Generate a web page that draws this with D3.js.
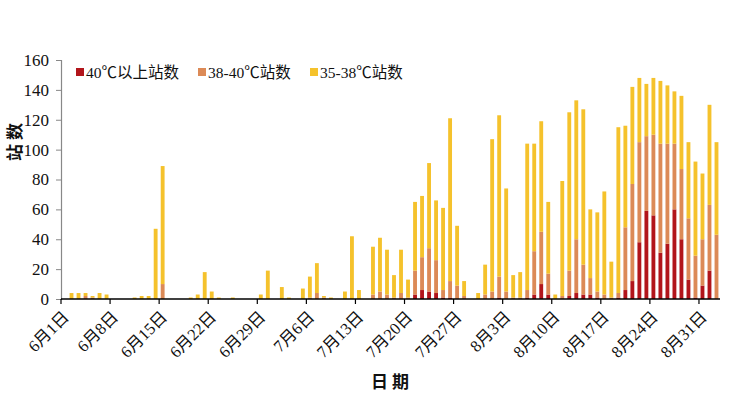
<!DOCTYPE html>
<html><head><meta charset="utf-8">
<script src="https://cdn.jsdelivr.net/npm/d3@7"></script>
<style>
html,body{margin:0;padding:0;background:#fff;}
text{font-family:"Liberation Serif","Times New Roman","Noto Sans CJK SC",serif;}
</style></head>
<body><svg id="c" width="748" height="400"></svg>
<script>
const dates = [
"2022-06-01","2022-06-02","2022-06-03","2022-06-04","2022-06-05","2022-06-06","2022-06-07","2022-06-08","2022-06-09","2022-06-10",
"2022-06-11","2022-06-12","2022-06-13","2022-06-14","2022-06-15","2022-06-16","2022-06-17","2022-06-18","2022-06-19","2022-06-20",
"2022-06-21","2022-06-22","2022-06-23","2022-06-24","2022-06-25","2022-06-26","2022-06-27","2022-06-28","2022-06-29","2022-06-30",
"2022-07-01","2022-07-02","2022-07-03","2022-07-04","2022-07-05","2022-07-06","2022-07-07","2022-07-08","2022-07-09","2022-07-10",
"2022-07-11","2022-07-12","2022-07-13","2022-07-14","2022-07-15","2022-07-16","2022-07-17","2022-07-18","2022-07-19","2022-07-20",
"2022-07-21","2022-07-22","2022-07-23","2022-07-24","2022-07-25","2022-07-26","2022-07-27","2022-07-28","2022-07-29","2022-07-30",
"2022-07-31","2022-08-01","2022-08-02","2022-08-03","2022-08-04","2022-08-05","2022-08-06","2022-08-07","2022-08-08","2022-08-09",
"2022-08-10","2022-08-11","2022-08-12","2022-08-13","2022-08-14","2022-08-15","2022-08-16","2022-08-17","2022-08-18","2022-08-19",
"2022-08-20","2022-08-21","2022-08-22","2022-08-23","2022-08-24","2022-08-25","2022-08-26","2022-08-27","2022-08-28","2022-08-29",
"2022-08-30","2022-08-31","2022-09-01","2022-09-02"];

const above40 = [
0,0,0,0,0,0,0,0,0,0, 0,0,0,0,0,0,0,0,0,0, 0,0,0,0,0,0,0,0,0,0,
0,0,0,0,0,0,0,0,0,0, 0,0,0,0,0,0,0,0,0,0, 3,6,5,4,1,1,0,0,0,0,
0,0,1,0,0,0,1,3,10,3, 0,0,2,4,3,3,1,0,0,1, 6,12,38,59,56,31,37,60,40,13,
1,9,19,0];

const t38to40 = [
0,0,0,2,1,0,0,0,0,0, 0,0,0,0,10,0,0,0,0,0, 0,0,0,0,0,0,0,0,0,0,
0,0,0,0,0,1,4,1,0,0, 0,0,0,0,3,5,3,1,4,1, 16,22,29,22,5,11,9,2,0,0,
3,5,14,5,1,1,5,29,35,14, 0,2,17,36,20,11,4,3,1,3, 42,65,67,50,54,73,67,44,47,41,
28,31,44,43];

const t35to38 = [
0,4,4,2,1,4,3,0,0,0, 1,2,2,47,79,0,0,0,1,3, 18,5,1,0,1,0,0,0,3,19,
0,8,1,0,7,14,20,1,1,0, 5,42,6,0,32,36,30,15,29,12, 46,41,57,40,55,109,40,10,0,4,
20,102,108,69,15,17,98,72,74,48, 3,77,106,93,104,46,53,69,24,111, 68,65,43,35,38,42,39,35,49,51,
63,44,67,62];

const seriesNames = ["40℃以上站数","38-40℃站数","35-38℃站数"];
const seriesColors = ["#B2151B","#DC8A57","#F5C22C"];
const yTicks = [0,20,40,60,80,100,120,140,160];
const xTickDates = ["2022-06-01","2022-06-08","2022-06-15","2022-06-22","2022-06-29","2022-07-06","2022-07-13",
"2022-07-20","2022-07-27","2022-08-03","2022-08-10","2022-08-17","2022-08-24","2022-08-31"];
const xTickLabels = ["6月1日","6月8日","6月15日","6月22日","6月29日","7月6日","7月13日",
"7月20日","7月27日","8月3日","8月10日","8月17日","8月24日","8月31日"];

const svg = d3.select("#c");
const L = 61, R = 720, T = 60, B = 299;

const x = d3.scaleBand().domain(dates).range([L, R]).paddingInner(0.45).paddingOuter(0.225);
const y = d3.scaleLinear().domain([0,160]).range([B, T]);

const rows = dates.map((d,i)=>({date:d, a:above40[i], b:t38to40[i], c:t35to38[i]}));
const stack = d3.stack().keys(["a","b","c"])(rows);

svg.append("g").selectAll("g").data(stack).join("g")
  .attr("fill",(d,i)=>seriesColors[i])
  .selectAll("rect").data(d=>d).join("rect")
  .attr("x",d=>x(d.data.date))
  .attr("width",x.bandwidth())
  .attr("y",d=>y(d[1]))
  .attr("height",d=>Math.max(0,y(d[0])-y(d[1])));

// Y axis
const yAxis = svg.append("g").attr("transform",`translate(${L},0)`)
  .call(d3.axisLeft(y).tickValues(yTicks).tickSize(5).tickPadding(7));
yAxis.select(".domain").attr("stroke","#888").attr("stroke-width",1.2);
yAxis.selectAll(".tick line").attr("stroke","#888");
yAxis.selectAll(".tick text").attr("font-size",17).attr("fill","#111")
  .style("font-family",'"Liberation Serif","Times New Roman",serif');

// X axis
const xAxis = svg.append("g").attr("transform",`translate(0,${B})`)
  .call(d3.axisBottom(x).tickValues(xTickDates).tickSize(5).tickSizeOuter(0)
    .tickFormat((d)=>xTickLabels[xTickDates.indexOf(d)]));
xAxis.selectAll(".tick").attr("transform",d=>`translate(${x(d)-x.step()*x.paddingOuter()},0)`);
xAxis.select(".domain").attr("stroke","#000").attr("stroke-width",1.5)
  .attr("d",`M${L},0H${R}`);
xAxis.selectAll(".tick line").attr("stroke","#000").attr("stroke-width",1.2);
xAxis.selectAll(".tick text")
  .attr("font-size",16.5).attr("fill","#111")
  .attr("text-anchor","end")
  .attr("y",0).attr("dy",0)
  .attr("transform","translate(9,19) rotate(-45)");

// axis titles
svg.append("text").attr("transform","translate(21,142) rotate(-90)")
  .attr("text-anchor","middle").attr("font-size",17).attr("font-weight","bold")
  .style("font-family",'"Noto Sans CJK SC",sans-serif').attr("fill","#111")
  .text("站 数");
svg.append("text").attr("x",390).attr("y",388)
  .attr("text-anchor","middle").attr("font-size",17).attr("font-weight","bold")
  .style("font-family",'"Noto Sans CJK SC",sans-serif').attr("fill","#111")
  .text("日 期");

// legend
const legX = [76, 198, 310];
const lg = svg.append("g");
seriesNames.forEach((n,i)=>{
  lg.append("rect").attr("x",legX[i]).attr("y",68).attr("width",8).attr("height",8).attr("fill",seriesColors[i]);
  const t = lg.append("text").attr("x",legX[i]+10).attr("y",78).attr("font-size",15.5).attr("fill","#111");
  n.split(/(℃)/).forEach(part=>{
    if(!part) return;
    const sp = t.append("tspan").text(part);
    if(part==="℃") sp.style("font-family",'"Noto Sans CJK SC",sans-serif');
  });
});
</script></body></html>
